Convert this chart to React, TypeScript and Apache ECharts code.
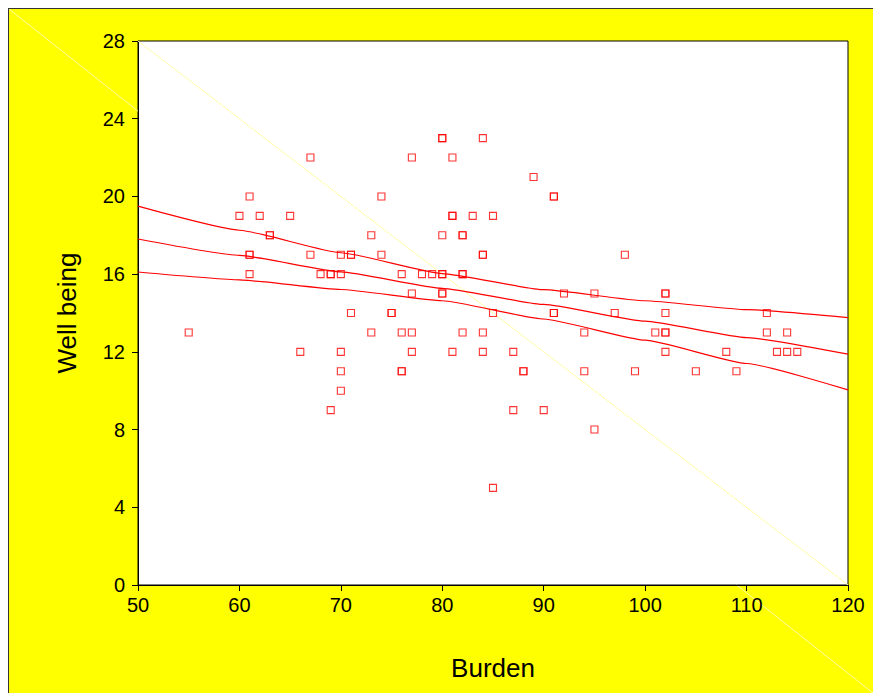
import React, { useEffect, useRef } from "react";
import * as echarts from "echarts";

// Scatter data (Burden, Well being); repeated pairs are overlapping points
const burden = [
  55, 60, 61, 61, 61, 61, 62, 63, 63, 65, 66, 67, 67, 68, 69, 69, 69, 70, 70, 70,
  70, 70, 71, 71, 71, 73, 73, 74, 74, 75, 75, 76, 76, 76, 76, 77, 77, 77, 77, 78,
  79, 80, 80, 80, 80, 80, 80, 80, 81, 81, 81, 81, 82, 82, 82, 82, 82, 83, 84, 84,
  84, 84, 84, 85, 85, 85, 87, 87, 88, 88, 89, 90, 91, 91, 91, 91, 92, 94, 94, 95,
  95, 97, 98, 99, 101, 102, 102, 102, 102, 102, 102, 105, 108, 109, 112, 112, 113, 114, 114, 115,
];
const wellBeing = [
  13, 19, 20, 17, 17, 16, 19, 18, 18, 19, 12, 22, 17, 16, 16, 16, 9, 17, 16, 12,
  11, 10, 17, 17, 14, 18, 13, 20, 17, 14, 14, 16, 13, 11, 11, 22, 15, 13, 12, 16,
  16, 23, 23, 18, 16, 16, 15, 15, 22, 19, 19, 12, 18, 18, 16, 16, 13, 19, 23, 17,
  17, 13, 12, 19, 14, 5, 12, 9, 11, 11, 21, 9, 20, 20, 14, 14, 15, 13, 11, 15,
  8, 14, 17, 11, 13, 15, 15, 14, 13, 13, 12, 11, 12, 11, 14, 13, 12, 13, 12, 12,
];

// Regression line and its confidence band
const fitX = [50, 60, 70, 80, 90, 100, 110, 120];
const fitCenter = [17.81, 16.97, 16.12, 15.27, 14.44, 13.58, 12.73, 11.88];
const fitUpper = [19.5, 18.26, 17.1, 16.03, 15.2, 14.63, 14.17, 13.76];
const fitLower = [16.11, 15.71, 15.21, 14.63, 13.69, 12.6, 11.4, 10.04];

// Faint diagonal reference line across the plot
const diagX = [50, 120];
const diagY = [28, 0];

const FONT = "'Liberation Sans', Arial, Helvetica, sans-serif";
const W = 864;
const H = 684;
const G = { left: 129, top: 32, right: 25, bottom: 108 };

export default function App() {
  const ref = useRef<HTMLDivElement>(null);

  useEffect(() => {
    const chart = echarts.init(ref.current!, null, { renderer: "svg" });

    const pair = (xs: number[], ys: number[]) => xs.map((x, i) => [x, ys[i]]);
    const redLine = (name: string, ys: number[]) => ({
      name,
      type: "line",
      data: pair(fitX, ys),
      symbol: "none",
      smooth: 0.15,
      smoothMonotone: "x",
      lineStyle: { color: "#ff0000", width: 1.2 },
      z: 3,
    });

    const faint = "#ffffa6";
    const yAtLeft = (G.left * H) / W;
    const xAtBottom = ((H - G.bottom) * W) / H;

    chart.setOption({
      animation: false,
      backgroundColor: "#ffff00",
      textStyle: { fontFamily: FONT },
      grid: {
        ...G,
        show: true,
        backgroundColor: "#ffffff",
        borderColor: "#000000",
        borderWidth: 1,
      },
      xAxis: {
        type: "value",
        min: 50,
        max: 120,
        interval: 10,
        name: "Burden",
        nameLocation: "middle",
        nameGap: 70,
        nameTextStyle: { fontSize: 26, color: "#000", fontFamily: FONT },
        axisLine: { show: true, lineStyle: { color: "#000", width: 1 } },
        axisTick: { show: true, length: 6, lineStyle: { color: "#000" } },
        splitLine: { show: false },
        axisLabel: { fontSize: 20, color: "#000", margin: 10, fontFamily: FONT },
      },
      yAxis: {
        type: "value",
        min: 0,
        max: 28,
        interval: 4,
        name: "Well being",
        nameLocation: "middle",
        nameGap: 58,
        nameTextStyle: { fontSize: 26, color: "#000", fontFamily: FONT },
        axisLine: { show: true, lineStyle: { color: "#000", width: 1 } },
        axisTick: { show: true, length: 6, lineStyle: { color: "#000" } },
        splitLine: { show: false },
        axisLabel: { fontSize: 20, color: "#000", margin: 13, fontFamily: FONT },
      },
      graphic: [
        {
          type: "line",
          silent: true,
          shape: { x1: 0, y1: 0, x2: G.left, y2: yAtLeft },
          style: { stroke: faint, lineWidth: 1 },
        },
        {
          type: "line",
          silent: true,
          shape: { x1: xAtBottom, y1: H - G.bottom, x2: W, y2: H },
          style: { stroke: faint, lineWidth: 1 },
        },
      ],
      series: [
        {
          name: "diagonal",
          type: "line",
          data: pair(diagX, diagY),
          symbol: "none",
          lineStyle: { color: faint, width: 1 },
          z: 1,
        },
        redLine("upper", fitUpper),
        redLine("fit", fitCenter),
        redLine("lower", fitLower),
        {
          name: "data",
          type: "scatter",
          data: pair(burden, wellBeing),
          symbol: "rect",
          symbolSize: 7,
          itemStyle: {
            color: "rgba(255,255,255,0)",
            borderColor: "#ff0000",
            borderWidth: 1.1,
          },
          z: 4,
        },
      ],
    });

    return () => chart.dispose();
  }, []);

  return (
    <div
      style={{
        position: "fixed",
        top: 8,
        left: 8,
        borderTop: "1px solid #333",
        borderLeft: "1px solid #333",
        width: W,
        height: H,
        background: "#ffff00",
      }}
    >
      <div ref={ref} style={{ width: W, height: H }} />
    </div>
  );
}
